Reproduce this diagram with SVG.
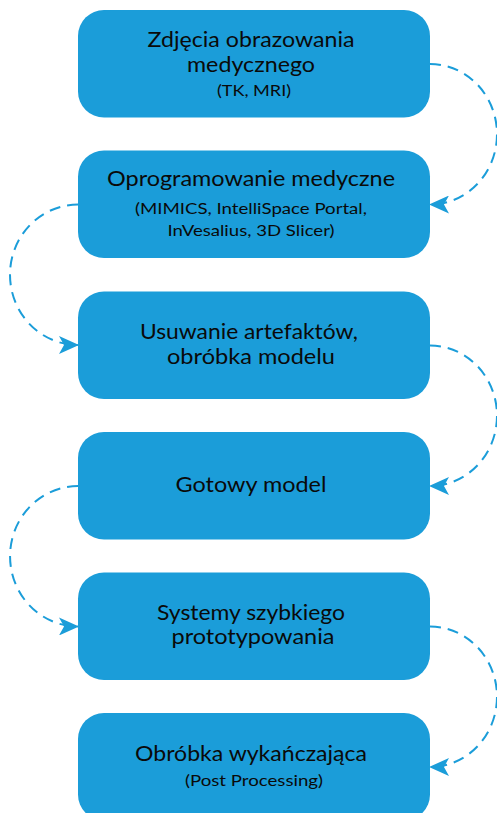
<svg xmlns="http://www.w3.org/2000/svg" width="497" height="813" viewBox="0 0 497 813">
<style>
.box{fill:#1b9dd9;}
.t{font-family:Lato,"Open Sans","Liberation Sans",sans-serif;fill:#0a0a0a;text-anchor:middle;}
.m{font-size:20.5px;}
.s{font-size:15px;}
.c{fill:none;stroke:#1b9dd9;stroke-width:2;stroke-dasharray:11 7;marker-end:url(#ah);}
</style>
<defs>
<marker id="ah" markerUnits="userSpaceOnUse" viewBox="0 0 20 18" markerWidth="20" markerHeight="18" refX="19" refY="9" orient="auto">
<path d="M0,0 L20,9 L0,18 L5,9 Z" fill="#1b9dd9"/>
</marker>
</defs>
<rect width="497" height="813" fill="#ffffff"/>
<g id="connectors">
<path class="c" d="M430,64 A67,70.25 0 0 1 430,204.5"/>
<path class="c" d="M78,204.5 A68,70.25 0 0 0 78,345"/>
<path class="c" d="M430,345.5 A67,70.25 0 0 1 430,486"/>
<path class="c" d="M78,486 A68,70.25 0 0 0 78,626.5"/>
<path class="c" d="M430,626.5 A67,70.25 0 0 1 430,767"/>
</g>
<g id="n1">
<rect class="box" x="78" y="10" width="352" height="107.5" rx="26"/>
<text class="t m" x="251" y="47" textLength="207" lengthAdjust="spacingAndGlyphs">Zdjęcia obrazowania</text>
<text class="t m" x="251" y="72" textLength="128" lengthAdjust="spacingAndGlyphs">medycznego</text>
<text class="t s" x="254" y="96" textLength="74" lengthAdjust="spacingAndGlyphs">(TK, MRI)</text>
</g>
<g id="n2">
<rect class="box" x="78" y="150.5" width="352" height="107.5" rx="26"/>
<text class="t m" x="251" y="186" textLength="288" lengthAdjust="spacingAndGlyphs">Oprogramowanie medyczne</text>
<text class="t s" x="251" y="214" textLength="232" lengthAdjust="spacingAndGlyphs">(MIMICS, IntelliSpace Portal,</text>
<text class="t s" x="251" y="236" textLength="167" lengthAdjust="spacingAndGlyphs">InVesalius, 3D Slicer)</text>
</g>
<g id="n3">
<rect class="box" x="78" y="291.5" width="352" height="107.5" rx="26"/>
<text class="t m" x="249" y="338.7" textLength="218" lengthAdjust="spacingAndGlyphs">Usuwanie artefaktów,</text>
<text class="t m" x="251" y="363.7" textLength="168" lengthAdjust="spacingAndGlyphs">obróbka modelu</text>
</g>
<g id="n4">
<rect class="box" x="78" y="432" width="352" height="107.5" rx="26"/>
<text class="t m" x="251" y="492" textLength="151" lengthAdjust="spacingAndGlyphs">Gotowy model</text>
</g>
<g id="n5">
<rect class="box" x="78" y="572.5" width="352" height="107.5" rx="26"/>
<text class="t m" x="251" y="620.3" textLength="188" lengthAdjust="spacingAndGlyphs">Systemy szybkiego</text>
<text class="t m" x="253" y="644" textLength="163" lengthAdjust="spacingAndGlyphs">prototypowania</text>
</g>
<g id="n6">
<rect class="box" x="78" y="713" width="352" height="107.5" rx="26"/>
<text class="t m" x="251" y="760.7" textLength="232" lengthAdjust="spacingAndGlyphs">Obróbka wykańczająca</text>
<text class="t s" x="254" y="786" textLength="138" lengthAdjust="spacingAndGlyphs">(Post Processing)</text>
</g>
</svg>
